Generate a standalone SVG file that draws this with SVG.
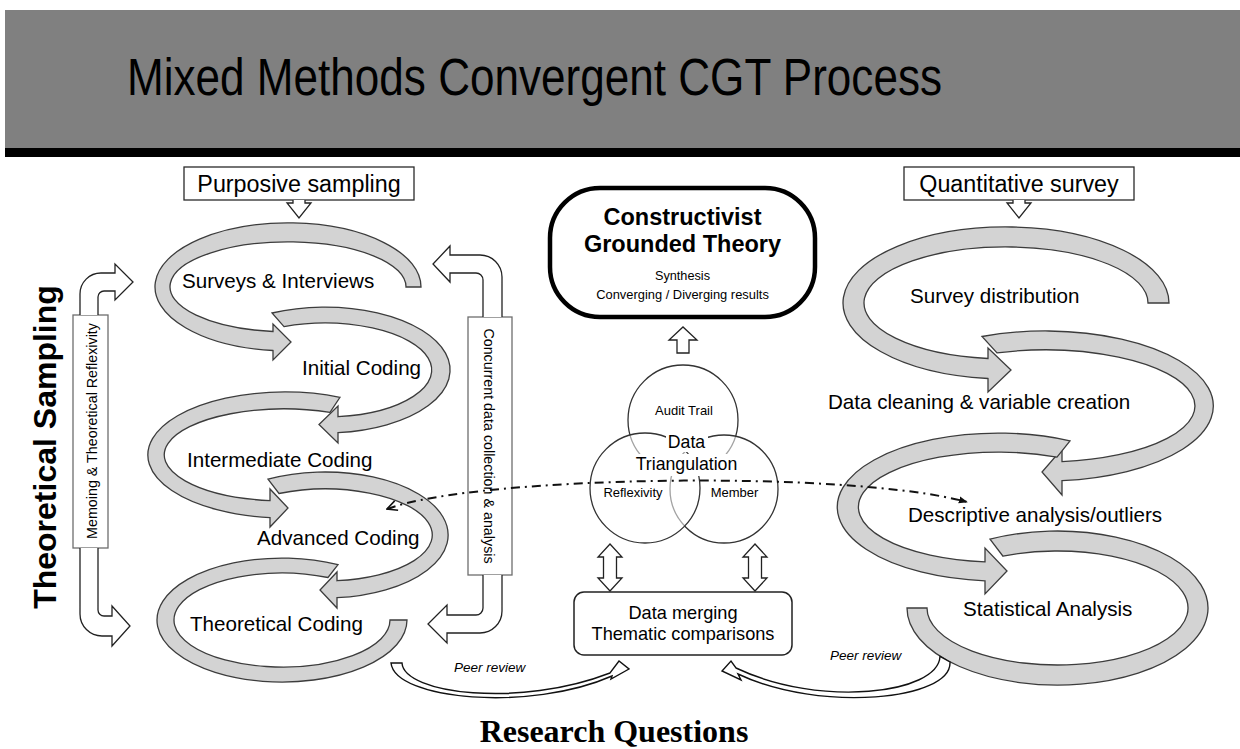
<svg xmlns="http://www.w3.org/2000/svg" width="1240" height="749" viewBox="0 0 1240 749">
  <style>
    text { font-family: "Liberation Sans", Arial, sans-serif; fill: #000; }
    .mid { text-anchor: middle; }
    .lbl { font-size: 20.6px; }
    .band { fill: #d3d3d3; stroke: #3c3c3c; stroke-width: 1.3; stroke-linejoin: miter; }
    .hollow { fill: #fff; stroke: #222; stroke-width: 1.3; stroke-linejoin: miter; }
    .vbox { fill: #fff; stroke: #6e6e6e; stroke-width: 1.3; }
    .box { fill: #fff; stroke: #2a2a2a; stroke-width: 1.3; }
    .peer { fill: #fff; stroke: #111; stroke-width: 1.4; stroke-linejoin: miter; }
    .venn { stroke: #333; stroke-width: 1.3; }
    .sm { font-size: 13px; }
    .peertxt { font-size: 13.5px; font-style: italic; }
  </style>
  <defs>
    <marker id="dashTip" viewBox="0 0 10 10" refX="9" refY="5" markerWidth="9" markerHeight="9" markerUnits="userSpaceOnUse" orient="auto">
      <path d="M0,1 L10,5 L0,9 z" fill="#111"/>
    </marker>
    <marker id="dashOpen" viewBox="0 0 12 12" refX="11" refY="6" markerWidth="12" markerHeight="12" markerUnits="userSpaceOnUse" orient="auto-start-reverse">
      <path d="M1,1 L11,6 L1,11" fill="none" stroke="#111" stroke-width="1.5"/>
    </marker>
  </defs>

  <rect width="1240" height="749" fill="#fff"/>

  <!-- header band -->
  <g id="header">
    <rect x="5" y="10" width="1235" height="138" fill="#808080"/>
    <rect x="5" y="148" width="1235" height="9" fill="#000"/>
    <text x="127" y="95" font-size="51" textLength="815" lengthAdjust="spacingAndGlyphs">Mixed Methods Convergent CGT Process</text>
  </g>

  <!-- side titles -->
  <g id="theoretical-sampling">
    <text transform="translate(56,447) rotate(-90)" class="mid" font-size="32" font-weight="bold">Theoretical Sampling</text>
  </g>

  <g id="memoing">
    <rect class="vbox" x="73" y="315" width="35" height="233"/>
    <text transform="translate(97,431) rotate(-90)" class="mid" font-size="14.3">Memoing &amp; Theoretical Reflexivity</text>
  </g>

  <g id="concurrent">
    <rect class="vbox" x="468" y="317" width="44" height="258"/>
    <text transform="translate(484,446) rotate(90)" class="mid" font-size="14.3">Concurrent data collection &amp; analysis</text>
  </g>

  <!-- qualitative strand -->
  <g id="purposive-sampling">
    <rect class="box" x="184" y="167" width="230" height="33"/>
    <text x="299" y="192" class="mid" font-size="23.3">Purposive sampling</text>
  </g>

  <g id="surveys-interviews">
    <path class="band" d="M 421,287 A 133,64 0 1 0 273,350.5 L 273,360 L 291,342 L 273,324 L 273,331.5 A 118,45 0 1 1 406,287 Z"/>
    <text class="lbl" x="182" y="288">Surveys &amp; Interviews</text>
  </g>

  <g id="initial-coding">
    <path class="band" d="M 272,313 A 125,63 0 1 1 338,432.7 L 338,443 L 319,424.5 L 338,406 L 338,416.7 A 107,47 0 1 0 284,326.6 Z"/>
    <text class="lbl" x="302" y="375">Initial Coding</text>
  </g>

  <g id="intermediate-coding">
    <path class="band" d="M 340,397.3 A 137,63 0 1 0 270,517.6 L 270,527 L 288,508 L 270,489 L 270,500.6 A 120,46 0 1 1 330,412.4 Z"/>
    <text class="lbl" x="187" y="467">Intermediate Coding</text>
  </g>

  <g id="advanced-coding">
    <path class="band" d="M 268,479.2 A 123,63 0 1 1 337,597.7 L 337,608 L 320,590 L 337,572 L 337,580.7 A 107,46 0 1 0 279,493.5 Z"/>
    <text class="lbl" x="257" y="545">Advanced Coding</text>
  </g>

  <g id="theoretical-coding">
    <path class="band" d="M 338,564.6 A 125,62 0 1 0 407,620 L 390,620 A 108,47 0 1 1 328,577.5 Z"/>
    <text class="lbl" x="190" y="631">Theoretical Coding</text>
  </g>

  <!-- quantitative strand -->
  <g id="quantitative-survey">
    <rect class="box" x="904" y="167" width="230" height="33"/>
    <text x="1019" y="192" class="mid" font-size="23.3">Quantitative survey</text>
  </g>

  <g id="survey-distribution">
    <path class="band" d="M 1169,303 A 163,76 0 1 0 988,378.5 L 988,392 L 1011,370 L 988,348 L 988,358.5 A 142,56 0 1 1 1148,303 Z"/>
    <text class="lbl" x="910" y="303">Survey distribution</text>
  </g>

  <g id="data-cleaning">
    <path class="band" d="M 982,336.5 A 168,75 0 1 1 1062,480.6 L 1062,495 L 1042,472 L 1062,449 L 1062,461.6 A 150,56 0 1 0 997,352.9 Z"/>
    <text class="lbl" x="828" y="409">Data cleaning &amp; variable creation</text>
  </g>

  <g id="descriptive-analysis">
    <path class="band" d="M 1070,440.8 A 161,74 0 1 0 985,580.8 L 985,594 L 1007,571 L 985,548 L 985,561.8 A 140,55 0 1 1 1057,457.1 Z"/>
    <text class="lbl" x="908" y="522">Descriptive analysis/outliers</text>
  </g>

  <g id="statistical-analysis">
    <path class="band" d="M 990,539.2 A 150.5,77 0 1 1 907,608 L 927,608 A 130.5,57 0 1 0 1003,556.2 Z"/>
    <text class="lbl" x="963" y="616">Statistical Analysis</text>
  </g>

  <!-- centre -->
  <g id="cgt">
    <rect x="550" y="188" width="265" height="129" rx="50" ry="50" fill="#fff" stroke="#000" stroke-width="4.5"/>
    <text x="682.5" y="225" class="mid" font-size="23.5" font-weight="bold">Constructivist</text>
    <text x="682.5" y="252" class="mid" font-size="23.5" font-weight="bold">Grounded Theory</text>
    <text x="682.5" y="280" class="mid" font-size="12.7">Synthesis</text>
    <text x="682.5" y="299" class="mid" font-size="12.9">Converging / Diverging results</text>
  </g>

  <g id="triangulation">
    <circle class="venn" cx="683" cy="420" r="55" fill="none"/>
    <circle class="venn" cx="724" cy="489" r="54" fill="#fff" fill-opacity="0.55"/>
    <circle class="venn" cx="645" cy="488" r="55" fill="#fff" fill-opacity="0.55"/>
    <rect x="666" y="432" width="42" height="20" fill="#fff"/>
    <rect x="634" y="454" width="106" height="22" fill="#fff"/>
    <text x="684" y="415" class="mid sm">Audit Trail</text>
    <text x="686.5" y="448" class="mid" font-size="17.7">Data</text>
    <text x="686.5" y="470" class="mid" font-size="17.7">Triangulation</text>
    <text x="633" y="497" class="mid sm">Reflexivity</text>
    <text x="734.5" y="497" class="mid sm">Member</text>
  </g>

  <g id="data-merging">
    <rect x="574" y="592" width="218" height="63" rx="10" ry="10" fill="#fff" stroke="#222" stroke-width="1.5"/>
    <text x="683" y="619" class="mid" font-size="18.2">Data merging</text>
    <text x="683" y="640" class="mid" font-size="18.2">Thematic comparisons</text>
  </g>

  <g id="research-questions">
    <text x="614" y="742" class="mid" font-size="32" font-weight="bold" style="font-family:'Liberation Serif','Times New Roman',serif">Research Questions</text>
  </g>

  <!-- connectors -->
  <g id="connectors">
    <!-- entry arrows below the sampling boxes -->
    <path class="hollow" d="M 293,200 L 293,203 L 287,203 L 299,218 L 311,203 L 305,203 L 305,200"/>
    <path class="hollow" d="M 1013,200 L 1013,203 L 1007,203 L 1019,218 L 1031,203 L 1025,203 L 1025,200"/>

    <!-- memoing loop-back arrows -->
    <path class="hollow" d="M 80,315 L 80,294 A 21,21 0 0 1 101,273 L 115,273 L 115,264 L 133,282 L 115,300 L 115,291 L 104,291 A 6,6 0 0 0 98,297 L 98,315"/>
    <path class="hollow" d="M 80,548 L 80,614 A 22,22 0 0 0 102,636 L 112,636 L 112,646 L 130,626 L 112,606 L 112,616 L 104,616 A 6,6 0 0 1 98,610 L 98,548"/>

    <!-- concurrent collection arrows -->
    <path class="hollow" d="M 502,317 L 502,277 A 22,22 0 0 0 480,255 L 450,255 L 450,246 L 433,264 L 450,282 L 450,273 L 476,273 A 7,7 0 0 1 483,280 L 483,317"/>
    <path class="hollow" d="M 502,575 L 502,611 A 22,22 0 0 1 480,633 L 447,633 L 447,643 L 428,624 L 447,605 L 447,615 L 476,615 A 7,7 0 0 0 483,608 L 483,575"/>

    <!-- triangulation to theory -->
    <path class="hollow" d="M 677,353 L 677,340 L 669,340 L 683,327 L 697,340 L 689,340 L 689,353 Z"/>

    <!-- triangulation to merging (two-way) -->
    <path class="hollow" d="M 610,544 L 622,557 L 616.5,557 L 616.5,578 L 622,578 L 610,591 L 598,578 L 603.5,578 L 603.5,557 L 598,557 Z"/>
    <path class="hollow" d="M 755,544 L 767,557 L 761.5,557 L 761.5,578 L 767,578 L 755,591 L 743,578 L 748.5,578 L 748.5,557 L 743,557 Z"/>

    <!-- peer review arrows -->
    <path class="peer" d="M 391,663 L 402,663 C 404,694 520,708 610,673 L 619,661 L 629,669 L 611,679 L 612,676 C 530,712 395,700 391,663 Z"/>
    <text x="454" y="672" class="peertxt">Peer review</text>
    <path class="peer" d="M 950,662 L 940,656.5 C 938,694 820,708 736,668 L 731,661 L 722,671 L 741,680 L 738,674 C 820,713 952,700 950,662 Z"/>
    <text x="830" y="660" class="peertxt">Peer review</text>

    <!-- qualitative / quantitative link -->
    <path d="M 387,509 C 480,475 850,470 967,502" fill="none" stroke="#111" stroke-width="2" stroke-dasharray="9 5 2 5" marker-start="url(#dashOpen)" marker-end="url(#dashTip)"/>
  </g>
</svg>
